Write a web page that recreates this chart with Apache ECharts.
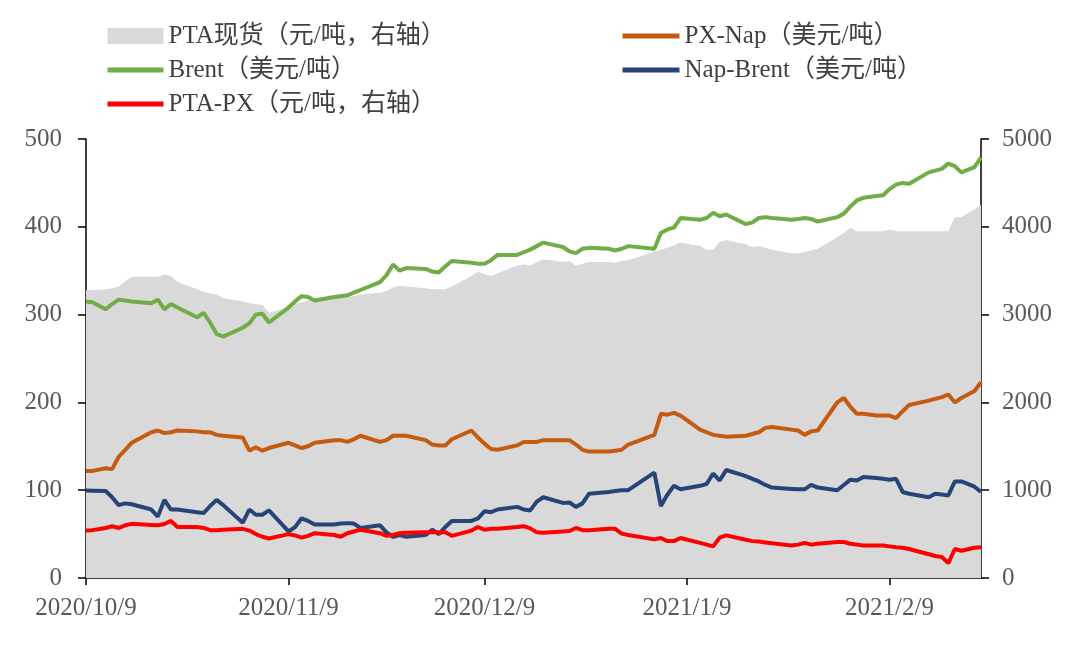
<!DOCTYPE html>
<html lang="zh-CN" style="height: 100%">
  <head>
    <meta charset="utf-8" />
  </head>
  <body style="height: 100%; margin: 0; background: #fff">
    <div id="container" style="width: 1080px; height: 648px"></div>

    <script
      type="text/javascript"
      src="https://fastly.jsdelivr.net/npm/echarts@6.0.0/dist/echarts.min.js"
    ></script>

    <script type="text/javascript">
      // trading days (incl. 10/10, 2/7, 2/20 make-up days)
      var dates = [
        "2020-10-09", "2020-10-10", "2020-10-12", "2020-10-13", "2020-10-14", "2020-10-15", "2020-10-16",
        "2020-10-19", "2020-10-20", "2020-10-21", "2020-10-22", "2020-10-23",
        "2020-10-26", "2020-10-27", "2020-10-28", "2020-10-29", "2020-10-30",
        "2020-11-02", "2020-11-03", "2020-11-04", "2020-11-05", "2020-11-06",
        "2020-11-09", "2020-11-10", "2020-11-11", "2020-11-12", "2020-11-13",
        "2020-11-16", "2020-11-17", "2020-11-18", "2020-11-19", "2020-11-20",
        "2020-11-23", "2020-11-24", "2020-11-25", "2020-11-26", "2020-11-27", "2020-11-30",
        "2020-12-01", "2020-12-02", "2020-12-03", "2020-12-04",
        "2020-12-07", "2020-12-08", "2020-12-09", "2020-12-10", "2020-12-11",
        "2020-12-14", "2020-12-15", "2020-12-16", "2020-12-17", "2020-12-18",
        "2020-12-21", "2020-12-22", "2020-12-23", "2020-12-24", "2020-12-25",
        "2020-12-28", "2020-12-29", "2020-12-30", "2020-12-31",
        "2021-01-04", "2021-01-05", "2021-01-06", "2021-01-07", "2021-01-08",
        "2021-01-11", "2021-01-12", "2021-01-13", "2021-01-14", "2021-01-15",
        "2021-01-18", "2021-01-19", "2021-01-20", "2021-01-21", "2021-01-22",
        "2021-01-25", "2021-01-26", "2021-01-27", "2021-01-28", "2021-01-29",
        "2021-02-01", "2021-02-02", "2021-02-03", "2021-02-04", "2021-02-05",
        "2021-02-07", "2021-02-08", "2021-02-09", "2021-02-10", "2021-02-11", "2021-02-12",
        "2021-02-15", "2021-02-16", "2021-02-17", "2021-02-18", "2021-02-19",
        "2021-02-20", "2021-02-22", "2021-02-23"
      ];

      // PTA现货 (元/吨, 右轴)
      var ptaSpot = [
        3276, 3280, 3290, 3300, 3320, 3380, 3430, 3430, 3430, 3460, 3440, 3370, 3290, 3260, 3240, 3230, 3190,
        3150, 3130, 3120, 3110, 3020, 3080, 3120, 3140, 3160, 3170, 3190, 3190, 3200, 3210, 3230,
        3250, 3270, 3310, 3330, 3320, 3300,
        3290, 3290, 3290, 3320, 3440, 3490, 3460, 3440, 3470, 3560, 3570, 3560, 3600, 3630,
        3600, 3610, 3560, 3580, 3600, 3600, 3590, 3610, 3620,
        3720, 3740, 3760, 3790, 3820, 3780, 3740, 3740, 3830, 3850, 3800, 3770, 3780, 3760, 3740,
        3700, 3700, 3710, 3730, 3750,
        3880, 3930, 3990, 3950, 3950, 3950, 3950, 3970, 3950, 3950, 3950,
        3950, 3950, 3950, 3950, 4110, 4110, 4200, 4250
      ];

      // Brent (美元/吨)
      var brent = [
        315, 314, 306, 312, 317, 316, 315, 313, 317, 306, 312, 308, 297, 302, 291, 278, 275,
        285, 290, 300, 301, 291, 308, 315, 321, 320, 316, 320, 321, 322, 325, 328,
        337, 345, 357, 350, 353, 352,
        349, 348, 355, 361, 359, 358, 358, 362, 368, 368, 371, 374, 378, 382,
        377, 372, 370, 375, 376, 375, 373, 375, 378,
        375, 393, 397, 399, 410, 408, 410, 416, 412, 414, 403, 405, 410, 411, 410,
        408, 409, 410, 409, 406,
        411, 415, 423, 430, 433, 435, 436, 443, 448, 450, 449,
        462, 464, 466, 472, 469, 462, 468, 479
      ];

      // PX-Nap (美元/吨)
      var pxNap = [
        122, 122, 125, 124, 138, 146, 154, 166, 168, 165, 166, 168, 167, 166, 166, 163, 162,
        160, 145, 149, 145, 148, 154, 151, 148, 150, 154, 157, 157, 155, 158, 162,
        155, 157, 162, 162, 162, 157,
        152, 151, 151, 158, 168, 160, 153, 147, 146, 151, 155, 155, 155, 157,
        157, 157, 152, 146, 144, 144, 145, 146, 152,
        163, 187, 186, 188, 185, 169, 166, 163, 162, 161, 162, 164, 166, 171, 172,
        169, 168, 163, 167, 168,
        200, 205, 195, 187, 187, 185, 185, 185, 182, 190, 197,
        202, 204, 206, 209, 200, 205, 213, 223
      ];

      // Nap-Brent (美元/吨)
      var napBrent = [
        99.6, 99.5, 99, 92, 83, 85, 84, 78, 70, 89, 78, 78, 75, 74, 82, 89, 83,
        63, 78, 72, 72, 77, 53, 58, 68, 65, 61, 61, 62, 62.5, 62, 57,
        60, 52, 47, 49, 47, 49,
        55, 50, 58, 65, 65, 68, 76, 75, 78, 81, 78, 77, 87, 92,
        85.5, 86, 81, 85, 96, 98, 99, 100, 100,
        120, 82, 95, 105, 101, 105, 107, 119, 111, 123, 116, 113, 110, 106, 103,
        101.5, 101, 101, 106, 103,
        100, 106, 112, 111, 115, 114, 113, 112, 113, 98, 96,
        92, 96, 95, 94, 110, 110, 104, 98
      ];

      // PTA-PX (元/吨, 右轴)
      var ptaPx = [
        540, 545, 570, 590, 570, 600, 617, 605, 600, 615, 650, 580, 580, 570, 545, 545, 550,
        560, 540, 500, 470, 450, 500, 485, 460, 480, 510, 490, 470, 510, 530, 550,
        510, 480, 490, 510, 515, 520,
        520, 520, 520, 480, 540, 580, 550, 560, 560, 580, 590, 565, 520, 515,
        530, 535, 570, 545, 545, 560, 560, 505, 490,
        440, 455, 420, 420, 455, 400, 380, 360, 460, 485, 435, 420, 415, 405, 395,
        370, 380, 400, 380, 390,
        410, 410, 390, 380, 370, 370, 370, 360, 350, 345, 330,
        270, 250, 240, 170, 330, 310, 345, 350
      ];

      var tickDates = ["2020-10-09", "2020-11-09", "2020-12-09", "2021-01-09", "2021-02-09"];

      function ts(s) {
        var p = s.split("-");
        return new Date(+p[0], +p[1] - 1, +p[2]).getTime();
      }
      function pairs(values) {
        return dates.map(function (d, i) {
          return [ts(d), values[i]];
        });
      }

      var FONT = '"Liberation Serif", "Times New Roman", "Noto Sans CJK SC", serif';
      var TXT = "#595959";

      var dom = document.getElementById("container");
      var myChart = echarts.init(dom, null, { renderer: "canvas" });
      var option;

      var tickValues = tickDates.map(ts);

      var legendText = {
        fontFamily: FONT,
        fontSize: 25,
        lineHeight: 26,
        color: "#404040"
      };

      option = {
        animation: false,
        backgroundColor: "#fff",
        textStyle: { fontFamily: FONT },
        grid: { left: 86, right: 99, top: 139, bottom: 70 },
        legend: [
          {
            orient: "vertical",
            left: 105,
            top: 23,
            padding: 0,
            itemWidth: 56,
            itemHeight: 16,
            itemGap: 8,
            itemStyle: { opacity: 0 },
            lineStyle: { width: 5 },
            textStyle: legendText,
            data: [
              { name: "PTA现货（元/吨，右轴）", icon: "rect", itemStyle: { opacity: 1, color: "#d9d9d9" } },
              "Brent（美元/吨）",
              "PTA-PX（元/吨，右轴）"
            ]
          },
          {
            orient: "vertical",
            left: 620,
            top: 23,
            padding: 0,
            itemWidth: 57,
            itemHeight: 16,
            itemGap: 8,
            itemStyle: { opacity: 0 },
            lineStyle: { width: 5 },
            textStyle: legendText,
            data: ["PX-Nap（美元/吨）", "Nap-Brent（美元/吨）"]
          }
        ],
        xAxis: {
          type: "value",
          min: ts("2020-10-09"),
          max: ts("2021-02-23"),
          splitLine: { show: false },
          axisLine: { lineStyle: { color: "#000", width: 1.5 } },
          axisTick: { show: true, length: 7, customValues: tickValues, lineStyle: { color: "#000", width: 1.5 } },
          axisLabel: {
            customValues: tickValues,
            margin: 18,
            fontFamily: FONT,
            fontSize: 25,
            color: TXT,
            formatter: function (v) {
              var d = new Date(v);
              return d.getFullYear() + "/" + (d.getMonth() + 1) + "/" + d.getDate();
            }
          }
        },
        yAxis: [
          {
            type: "value",
            min: 0,
            max: 500,
            interval: 100,
            splitLine: { show: false },
            axisLine: { show: true, lineStyle: { color: "#000", width: 1.5 } },
            axisTick: { show: true, length: 8, lineStyle: { color: "#000", width: 1.5 } },
            axisLabel: { margin: 24, fontFamily: FONT, fontSize: 25, color: TXT }
          },
          {
            type: "value",
            min: 0,
            max: 5000,
            interval: 1000,
            splitLine: { show: false },
            axisLine: { show: true, lineStyle: { color: "#000", width: 1.5 } },
            axisTick: { show: true, length: 8, lineStyle: { color: "#000", width: 1.5 } },
            axisLabel: {
              margin: 21,
              fontFamily: FONT,
              fontSize: 25,
              color: TXT,
              formatter: function (v) {
                return String(v);
              }
            }
          }
        ],
        series: [
          {
            name: "PTA现货（元/吨，右轴）",
            type: "line",
            yAxisIndex: 1,
            data: pairs(ptaSpot),
            symbol: "none",
            color: "#d9d9d9",
            lineStyle: { width: 0 },
            areaStyle: { color: "#d9d9d9", opacity: 1 },
            z: 1
          },
          {
            name: "PX-Nap（美元/吨）",
            type: "line",
            data: pairs(pxNap),
            symbol: "none",
            color: "#c55a11",
            lineStyle: { width: 4 },
            z: 3
          },
          {
            name: "Brent（美元/吨）",
            type: "line",
            data: pairs(brent),
            symbol: "none",
            color: "#70ad47",
            lineStyle: { width: 4 },
            z: 3
          },
          {
            name: "Nap-Brent（美元/吨）",
            type: "line",
            data: pairs(napBrent),
            symbol: "none",
            color: "#264478",
            lineStyle: { width: 4 },
            z: 3
          },
          {
            name: "PTA-PX（元/吨，右轴）",
            type: "line",
            yAxisIndex: 1,
            data: pairs(ptaPx),
            symbol: "none",
            color: "#ff0000",
            lineStyle: { width: 4 },
            z: 4
          }
        ]
      };

      myChart.setOption(option);
      window.addEventListener("resize", myChart.resize);
    </script>
  </body>
</html>
